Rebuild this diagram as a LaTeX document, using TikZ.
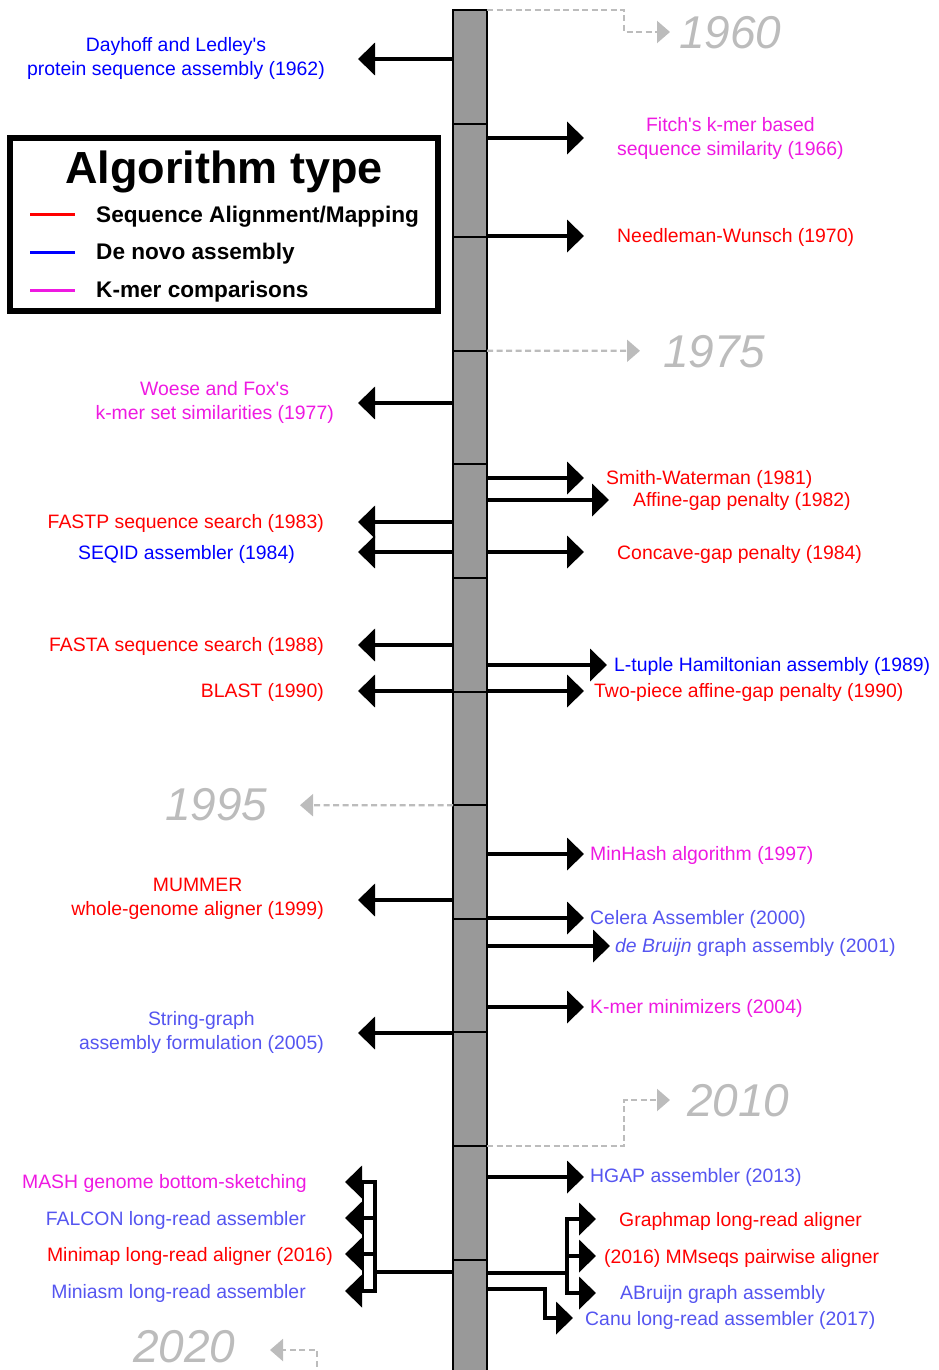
\documentclass[tikz,border=0pt]{standalone}
\usepackage{fontspec}
\setmainfont{Liberation Sans}
\usetikzlibrary{arrows.meta}
\definecolor{algred}{RGB}{255,0,0}
\definecolor{algblue}{RGB}{0,0,255}
\definecolor{alglblue}{RGB}{85,85,240}
\definecolor{algmag}{RGB}{238,25,225}
\definecolor{yeargray}{RGB}{188,188,188}
\definecolor{bargray}{RGB}{153,153,153}
\newcommand{\apos}{\textquotesingle}
\begin{document}
\begin{tikzpicture}[x=1pt,y=-1pt,
  bar/.style={draw=black, fill=bargray, line width=2pt, minimum width=34pt,
    minimum height=1365pt, inner sep=0pt, outer sep=0pt},
  divider/.style={line width=2pt},
  arr/.style={line width=4pt, -{Triangle[length=17pt,width=32pt]}},
  plain/.style={line width=4pt},
  yr/.style={draw=yeargray, line width=2.2pt, dash pattern=on 6pt off 3.5pt,
    -{Triangle[length=13pt,width=22pt]}},
  yeartxt/.style={text=yeargray, inner sep=0pt, anchor=base west,
    font=\fontsize{46}{55}\selectfont\itshape},
  lbl/.style={inner sep=0pt, align=center, execute at begin node=\strut,
    font=\fontsize{19.4}{24}\selectfont, yshift=-0.8pt},
  lleft/.style={lbl, anchor=east},
  lright/.style={lbl, anchor=west},
  legendbox/.style={draw=black, line width=6pt, minimum width=428pt,
    minimum height=173pt, inner sep=0pt},
  legtitle/.style={inner sep=0pt, anchor=base, font=\fontsize{45}{54}\selectfont\bfseries},
  legitem/.style={inner sep=0pt, anchor=base west, font=\fontsize{22.6}{27}\selectfont\bfseries},
  swatch/.style={line width=3pt}
]
\useasboundingbox (0,0) rectangle (938,1370);
\clip (0,0) rectangle (938,1370);

% ---- timeline bar with five-year divisions ----
\node[bar, anchor=north] (bar) at (470,10) {};
\foreach \k in {0,...,12} {
  \path (bar.north west) ++(0,{113.6*\k}) coordinate (dw\k) ++(34,0) coordinate (de\k);
}
\foreach \k in {1,...,11} { \draw[divider] (dw\k) -- (de\k); }

% ---- year markers ----
\node[yeartxt] (t1960) at (679,49) {1960};
\node[yeartxt] (t1975) at (663,367) {1975};
\node[yeartxt] (t1995) at (165,820) {1995};
\node[yeartxt] (t2010) at (687,1116) {2010};
\node[yeartxt] (t2020) at (133,1362) {2020};
\coordinate (y60a) at (624,32);   \coordinate (y60) at (670,32);
\coordinate (y75) at (640,350.8);
\coordinate (y95) at (300,805.2);
\coordinate (y10a) at (624,1100); \coordinate (y10) at (670,1100);
\coordinate (y20a) at (317,1350); \coordinate (y20) at (270,1350);
\draw[yr] (de0) -| (y60a) -- (y60);
\draw[yr] (de3) -- (y75);
\draw[yr] (dw7) -- (y95);
\draw[yr] (de10) -| (y10a) -- (y10);
\draw[yr] (dw12) -| (y20a) -- (y20);

% ---- legend ----
\node[legendbox] (legend) at (223.5,224.5) {};
\node[legtitle] (legtitle) at (224,183) {Algorithm type};
\node[legitem] (legA) at (96,222) {Sequence Alignment/Mapping};
\node[legitem] (legB) at (96,259) {De novo assembly};
\node[legitem] (legC) at (96,297) {K-mer comparisons};
\draw[swatch, algred]  (30,214) -- (75,214);
\draw[swatch, algblue] (30,252) -- (75,252);
\draw[swatch, algmag]  (30,290) -- (75,290);

% ---- left-hand labels ----
\node[lleft, text=algblue] (dayhoff) at (325,59) {Dayhoff and Ledley\apos s\\\strut protein sequence assembly (1962)};
\node[lleft, text=algmag] (woese) at (334,403) {Woese and Fox\apos s\\\strut k-mer set similarities (1977)};
\node[lleft, text=algred] (fastp) at (324,523) {FASTP sequence search (1983)};
\node[lleft, text=algblue] (seqid) at (295,554) {SEQID assembler (1984)};
\node[lleft, text=algred] (fasta) at (324,646) {FASTA sequence search (1988)};
\node[lleft, text=algred] (blast) at (324,692) {BLAST (1990)};
\node[lleft, text=algred] (mummer) at (324,900) {MUMMER\\\strut whole-genome aligner (1999)};
\node[lleft, text=alglblue] (sgraph) at (324,1033) {String-graph\\\strut assembly formulation (2005)};
\node[lleft, text=algmag] (mash) at (307,1183) {MASH genome bottom-sketching};
\node[lleft, text=alglblue] (falcon) at (306,1220) {FALCON long-read assembler};
\node[lleft, text=algred] (minimap) at (333,1256) {Minimap long-read aligner (2016)};
\node[lleft, text=alglblue] (miniasm) at (306,1293) {Miniasm long-read assembler};

% ---- right-hand labels ----
\node[lright, text=algmag] (fitch) at (617,139) {Fitch\apos s k-mer based\\\strut sequence similarity (1966)};
\node[lright, text=algred] (nw) at (617,237) {Needleman-Wunsch (1970)};
\node[lright, text=algred] (sw) at (606,479) {Smith-Waterman (1981)};
\node[lright, text=algred] (affine) at (633,501) {Affine-gap penalty (1982)};
\node[lright, text=algred] (concave) at (617,554) {Concave-gap penalty (1984)};
\node[lright, text=algblue] (ltuple) at (614,666) {L-tuple Hamiltonian assembly (1989)};
\node[lright, text=algred] (twopiece) at (594,692) {Two-piece affine-gap penalty (1990)};
\node[lright, text=algmag] (minhash) at (590,855) {MinHash algorithm (1997)};
\node[lright, text=alglblue] (celera) at (590,919) {Celera Assembler (2000)};
\node[lright, text=alglblue] (debruijn) at (615,947) {\textit{de Bruijn} graph assembly (2001)};
\node[lright, text=algmag] (kmer) at (590,1008) {K-mer minimizers (2004)};
\node[lright, text=alglblue] (hgap) at (590,1177) {HGAP assembler (2013)};
\node[lright, text=algred] (graphmap) at (619,1221) {Graphmap long-read aligner};
\node[lright, text=algred] (mmseqs) at (604,1258) {(2016) MMseqs pairwise aligner};
\node[lright, text=alglblue] (abruijn) at (620,1294) {ABruijn graph assembly};
\node[lright, text=alglblue] (canu) at (585,1320) {Canu long-read assembler (2017)};

% ---- arrow tips (left) ----
\coordinate (aDay) at (358,59);
\coordinate (aWoe) at (358,403);
\coordinate (aFastp) at (358,522);
\coordinate (aSeqid) at (358,552);
\coordinate (aFasta) at (358,645);
\coordinate (aBlast) at (358,691);
\coordinate (aMum) at (358,900);
\coordinate (aSg) at (358,1033);
\foreach \c in {aDay,aWoe,aFastp,aSeqid,aFasta,aBlast,aMum,aSg} {
  \draw[arr] (bar.west |- \c) -- (\c);
}

% ---- arrow tips (right) ----
\coordinate (aFitch) at (584,138);
\coordinate (aNw) at (584,236);
\coordinate (aSw) at (584,478);
\coordinate (aAff) at (609,500);
\coordinate (aCon) at (584,552);
\coordinate (aLt) at (607,665);
\coordinate (aTp) at (584,691);
\coordinate (aMh) at (584,854);
\coordinate (aCel) at (584,918);
\coordinate (aDb) at (610,946);
\coordinate (aKm) at (584,1007);
\coordinate (aHg) at (584,1177);
\foreach \c in {aFitch,aNw,aSw,aAff,aCon,aLt,aTp,aMh,aCel,aDb,aKm,aHg} {
  \draw[arr] (bar.east |- \c) -- (\c);
}

% ---- 2015-2017 left bracket ----
\coordinate (lj) at (375,1272);
\coordinate (lMash) at (345,1182);
\coordinate (lFal) at (345,1218);
\coordinate (lMm) at (345,1254);
\coordinate (lMa) at (345,1291);
\draw[plain] (bar.west |- lj) -- (lj);
\draw[line width=1.6pt] (363,1182) -- (363,1291);
\foreach \c in {lMash,lFal,lMm,lMa} { \draw[arr] (lj) |- (\c); }

% ---- 2015-2017 right bracket ----
\coordinate (rj) at (567,1273);
\coordinate (rGm) at (596,1219);
\coordinate (rMs) at (596,1256);
\coordinate (rAb) at (596,1293);
\draw[plain] (bar.east |- rj) -- (rj);
\foreach \c in {rGm,rMs,rAb} { \draw[arr] (rj) |- (\c); }
\coordinate (cb) at (545,1289);
\coordinate (ct) at (573,1318);
\draw[arr] (bar.east |- cb) -| (cb |- ct) -- (ct);
\end{tikzpicture}
\end{document}
